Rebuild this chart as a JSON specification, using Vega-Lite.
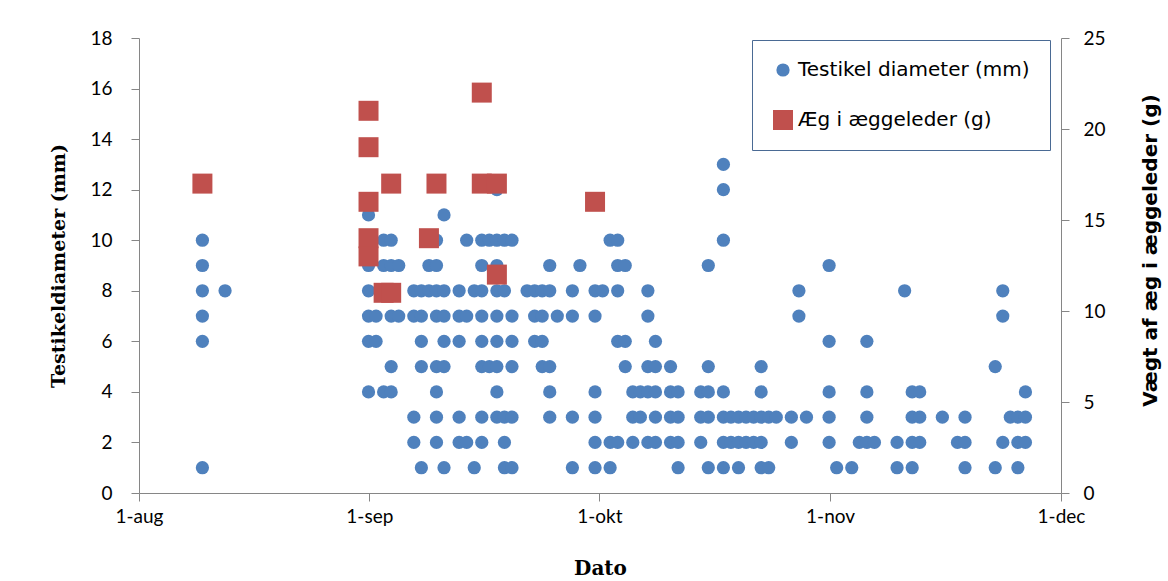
{
"$schema":"https://vega.github.io/schema/vega-lite/v6.json",
"width":922,"height":455,
"autosize":{"type":"none"},
"padding":{"left":139,"top":38,"right":107,"bottom":88},
"background":"white",
"config":{"view":{"stroke":null},"font":"Lato"},
"datasets":{"punkter":[
{"dato":"2010-08-10","serie":"Testikel diameter (mm)","vaerdi":10},
{"dato":"2010-08-10","serie":"Testikel diameter (mm)","vaerdi":9},
{"dato":"2010-08-10","serie":"Testikel diameter (mm)","vaerdi":8},
{"dato":"2010-08-10","serie":"Testikel diameter (mm)","vaerdi":7},
{"dato":"2010-08-10","serie":"Testikel diameter (mm)","vaerdi":6},
{"dato":"2010-08-10","serie":"Testikel diameter (mm)","vaerdi":1},
{"dato":"2010-08-13","serie":"Testikel diameter (mm)","vaerdi":8},
{"dato":"2010-09-01","serie":"Testikel diameter (mm)","vaerdi":11},
{"dato":"2010-09-01","serie":"Testikel diameter (mm)","vaerdi":9},
{"dato":"2010-09-01","serie":"Testikel diameter (mm)","vaerdi":8},
{"dato":"2010-09-01","serie":"Testikel diameter (mm)","vaerdi":7},
{"dato":"2010-09-01","serie":"Testikel diameter (mm)","vaerdi":6},
{"dato":"2010-09-01","serie":"Testikel diameter (mm)","vaerdi":4},
{"dato":"2010-09-02","serie":"Testikel diameter (mm)","vaerdi":7},
{"dato":"2010-09-02","serie":"Testikel diameter (mm)","vaerdi":6},
{"dato":"2010-09-03","serie":"Testikel diameter (mm)","vaerdi":10},
{"dato":"2010-09-03","serie":"Testikel diameter (mm)","vaerdi":9},
{"dato":"2010-09-03","serie":"Testikel diameter (mm)","vaerdi":4},
{"dato":"2010-09-04","serie":"Testikel diameter (mm)","vaerdi":10},
{"dato":"2010-09-04","serie":"Testikel diameter (mm)","vaerdi":9},
{"dato":"2010-09-04","serie":"Testikel diameter (mm)","vaerdi":7},
{"dato":"2010-09-04","serie":"Testikel diameter (mm)","vaerdi":5},
{"dato":"2010-09-04","serie":"Testikel diameter (mm)","vaerdi":4},
{"dato":"2010-09-05","serie":"Testikel diameter (mm)","vaerdi":9},
{"dato":"2010-09-05","serie":"Testikel diameter (mm)","vaerdi":7},
{"dato":"2010-09-07","serie":"Testikel diameter (mm)","vaerdi":8},
{"dato":"2010-09-07","serie":"Testikel diameter (mm)","vaerdi":7},
{"dato":"2010-09-07","serie":"Testikel diameter (mm)","vaerdi":3},
{"dato":"2010-09-07","serie":"Testikel diameter (mm)","vaerdi":2},
{"dato":"2010-09-08","serie":"Testikel diameter (mm)","vaerdi":8},
{"dato":"2010-09-08","serie":"Testikel diameter (mm)","vaerdi":7},
{"dato":"2010-09-08","serie":"Testikel diameter (mm)","vaerdi":6},
{"dato":"2010-09-08","serie":"Testikel diameter (mm)","vaerdi":5},
{"dato":"2010-09-08","serie":"Testikel diameter (mm)","vaerdi":1},
{"dato":"2010-09-09","serie":"Testikel diameter (mm)","vaerdi":9},
{"dato":"2010-09-09","serie":"Testikel diameter (mm)","vaerdi":8},
{"dato":"2010-09-10","serie":"Testikel diameter (mm)","vaerdi":10},
{"dato":"2010-09-10","serie":"Testikel diameter (mm)","vaerdi":9},
{"dato":"2010-09-10","serie":"Testikel diameter (mm)","vaerdi":8},
{"dato":"2010-09-10","serie":"Testikel diameter (mm)","vaerdi":7},
{"dato":"2010-09-10","serie":"Testikel diameter (mm)","vaerdi":5},
{"dato":"2010-09-10","serie":"Testikel diameter (mm)","vaerdi":4},
{"dato":"2010-09-10","serie":"Testikel diameter (mm)","vaerdi":3},
{"dato":"2010-09-10","serie":"Testikel diameter (mm)","vaerdi":2},
{"dato":"2010-09-11","serie":"Testikel diameter (mm)","vaerdi":11},
{"dato":"2010-09-11","serie":"Testikel diameter (mm)","vaerdi":8},
{"dato":"2010-09-11","serie":"Testikel diameter (mm)","vaerdi":7},
{"dato":"2010-09-11","serie":"Testikel diameter (mm)","vaerdi":6},
{"dato":"2010-09-11","serie":"Testikel diameter (mm)","vaerdi":5},
{"dato":"2010-09-11","serie":"Testikel diameter (mm)","vaerdi":1},
{"dato":"2010-09-13","serie":"Testikel diameter (mm)","vaerdi":8},
{"dato":"2010-09-13","serie":"Testikel diameter (mm)","vaerdi":7},
{"dato":"2010-09-13","serie":"Testikel diameter (mm)","vaerdi":6},
{"dato":"2010-09-13","serie":"Testikel diameter (mm)","vaerdi":3},
{"dato":"2010-09-13","serie":"Testikel diameter (mm)","vaerdi":2},
{"dato":"2010-09-14","serie":"Testikel diameter (mm)","vaerdi":10},
{"dato":"2010-09-14","serie":"Testikel diameter (mm)","vaerdi":7},
{"dato":"2010-09-14","serie":"Testikel diameter (mm)","vaerdi":2},
{"dato":"2010-09-15","serie":"Testikel diameter (mm)","vaerdi":8},
{"dato":"2010-09-15","serie":"Testikel diameter (mm)","vaerdi":1},
{"dato":"2010-09-16","serie":"Testikel diameter (mm)","vaerdi":10},
{"dato":"2010-09-16","serie":"Testikel diameter (mm)","vaerdi":9},
{"dato":"2010-09-16","serie":"Testikel diameter (mm)","vaerdi":8},
{"dato":"2010-09-16","serie":"Testikel diameter (mm)","vaerdi":7},
{"dato":"2010-09-16","serie":"Testikel diameter (mm)","vaerdi":6},
{"dato":"2010-09-16","serie":"Testikel diameter (mm)","vaerdi":5},
{"dato":"2010-09-16","serie":"Testikel diameter (mm)","vaerdi":3},
{"dato":"2010-09-16","serie":"Testikel diameter (mm)","vaerdi":2},
{"dato":"2010-09-17","serie":"Testikel diameter (mm)","vaerdi":10},
{"dato":"2010-09-17","serie":"Testikel diameter (mm)","vaerdi":5},
{"dato":"2010-09-18","serie":"Testikel diameter (mm)","vaerdi":12},
{"dato":"2010-09-18","serie":"Testikel diameter (mm)","vaerdi":10},
{"dato":"2010-09-18","serie":"Testikel diameter (mm)","vaerdi":9},
{"dato":"2010-09-18","serie":"Testikel diameter (mm)","vaerdi":8},
{"dato":"2010-09-18","serie":"Testikel diameter (mm)","vaerdi":7},
{"dato":"2010-09-18","serie":"Testikel diameter (mm)","vaerdi":6},
{"dato":"2010-09-18","serie":"Testikel diameter (mm)","vaerdi":5},
{"dato":"2010-09-18","serie":"Testikel diameter (mm)","vaerdi":4},
{"dato":"2010-09-18","serie":"Testikel diameter (mm)","vaerdi":3},
{"dato":"2010-09-19","serie":"Testikel diameter (mm)","vaerdi":10},
{"dato":"2010-09-19","serie":"Testikel diameter (mm)","vaerdi":8},
{"dato":"2010-09-19","serie":"Testikel diameter (mm)","vaerdi":3},
{"dato":"2010-09-19","serie":"Testikel diameter (mm)","vaerdi":2},
{"dato":"2010-09-19","serie":"Testikel diameter (mm)","vaerdi":1},
{"dato":"2010-09-20","serie":"Testikel diameter (mm)","vaerdi":10},
{"dato":"2010-09-20","serie":"Testikel diameter (mm)","vaerdi":7},
{"dato":"2010-09-20","serie":"Testikel diameter (mm)","vaerdi":6},
{"dato":"2010-09-20","serie":"Testikel diameter (mm)","vaerdi":5},
{"dato":"2010-09-20","serie":"Testikel diameter (mm)","vaerdi":3},
{"dato":"2010-09-20","serie":"Testikel diameter (mm)","vaerdi":1},
{"dato":"2010-09-22","serie":"Testikel diameter (mm)","vaerdi":8},
{"dato":"2010-09-23","serie":"Testikel diameter (mm)","vaerdi":8},
{"dato":"2010-09-23","serie":"Testikel diameter (mm)","vaerdi":7},
{"dato":"2010-09-23","serie":"Testikel diameter (mm)","vaerdi":6},
{"dato":"2010-09-24","serie":"Testikel diameter (mm)","vaerdi":8},
{"dato":"2010-09-24","serie":"Testikel diameter (mm)","vaerdi":7},
{"dato":"2010-09-24","serie":"Testikel diameter (mm)","vaerdi":6},
{"dato":"2010-09-24","serie":"Testikel diameter (mm)","vaerdi":5},
{"dato":"2010-09-25","serie":"Testikel diameter (mm)","vaerdi":9},
{"dato":"2010-09-25","serie":"Testikel diameter (mm)","vaerdi":8},
{"dato":"2010-09-25","serie":"Testikel diameter (mm)","vaerdi":5},
{"dato":"2010-09-25","serie":"Testikel diameter (mm)","vaerdi":4},
{"dato":"2010-09-25","serie":"Testikel diameter (mm)","vaerdi":3},
{"dato":"2010-09-26","serie":"Testikel diameter (mm)","vaerdi":7},
{"dato":"2010-09-28","serie":"Testikel diameter (mm)","vaerdi":8},
{"dato":"2010-09-28","serie":"Testikel diameter (mm)","vaerdi":7},
{"dato":"2010-09-28","serie":"Testikel diameter (mm)","vaerdi":3},
{"dato":"2010-09-28","serie":"Testikel diameter (mm)","vaerdi":1},
{"dato":"2010-09-29","serie":"Testikel diameter (mm)","vaerdi":9},
{"dato":"2010-10-01","serie":"Testikel diameter (mm)","vaerdi":8},
{"dato":"2010-10-01","serie":"Testikel diameter (mm)","vaerdi":7},
{"dato":"2010-10-01","serie":"Testikel diameter (mm)","vaerdi":4},
{"dato":"2010-10-01","serie":"Testikel diameter (mm)","vaerdi":3},
{"dato":"2010-10-01","serie":"Testikel diameter (mm)","vaerdi":2},
{"dato":"2010-10-01","serie":"Testikel diameter (mm)","vaerdi":1},
{"dato":"2010-10-02","serie":"Testikel diameter (mm)","vaerdi":8},
{"dato":"2010-10-03","serie":"Testikel diameter (mm)","vaerdi":10},
{"dato":"2010-10-03","serie":"Testikel diameter (mm)","vaerdi":2},
{"dato":"2010-10-03","serie":"Testikel diameter (mm)","vaerdi":1},
{"dato":"2010-10-04","serie":"Testikel diameter (mm)","vaerdi":10},
{"dato":"2010-10-04","serie":"Testikel diameter (mm)","vaerdi":9},
{"dato":"2010-10-04","serie":"Testikel diameter (mm)","vaerdi":8},
{"dato":"2010-10-04","serie":"Testikel diameter (mm)","vaerdi":6},
{"dato":"2010-10-04","serie":"Testikel diameter (mm)","vaerdi":2},
{"dato":"2010-10-05","serie":"Testikel diameter (mm)","vaerdi":9},
{"dato":"2010-10-05","serie":"Testikel diameter (mm)","vaerdi":6},
{"dato":"2010-10-05","serie":"Testikel diameter (mm)","vaerdi":5},
{"dato":"2010-10-06","serie":"Testikel diameter (mm)","vaerdi":4},
{"dato":"2010-10-06","serie":"Testikel diameter (mm)","vaerdi":3},
{"dato":"2010-10-06","serie":"Testikel diameter (mm)","vaerdi":2},
{"dato":"2010-10-07","serie":"Testikel diameter (mm)","vaerdi":4},
{"dato":"2010-10-07","serie":"Testikel diameter (mm)","vaerdi":3},
{"dato":"2010-10-08","serie":"Testikel diameter (mm)","vaerdi":8},
{"dato":"2010-10-08","serie":"Testikel diameter (mm)","vaerdi":7},
{"dato":"2010-10-08","serie":"Testikel diameter (mm)","vaerdi":5},
{"dato":"2010-10-08","serie":"Testikel diameter (mm)","vaerdi":4},
{"dato":"2010-10-08","serie":"Testikel diameter (mm)","vaerdi":2},
{"dato":"2010-10-09","serie":"Testikel diameter (mm)","vaerdi":6},
{"dato":"2010-10-09","serie":"Testikel diameter (mm)","vaerdi":5},
{"dato":"2010-10-09","serie":"Testikel diameter (mm)","vaerdi":4},
{"dato":"2010-10-09","serie":"Testikel diameter (mm)","vaerdi":3},
{"dato":"2010-10-09","serie":"Testikel diameter (mm)","vaerdi":2},
{"dato":"2010-10-11","serie":"Testikel diameter (mm)","vaerdi":5},
{"dato":"2010-10-11","serie":"Testikel diameter (mm)","vaerdi":4},
{"dato":"2010-10-11","serie":"Testikel diameter (mm)","vaerdi":3},
{"dato":"2010-10-11","serie":"Testikel diameter (mm)","vaerdi":2},
{"dato":"2010-10-12","serie":"Testikel diameter (mm)","vaerdi":4},
{"dato":"2010-10-12","serie":"Testikel diameter (mm)","vaerdi":3},
{"dato":"2010-10-12","serie":"Testikel diameter (mm)","vaerdi":2},
{"dato":"2010-10-12","serie":"Testikel diameter (mm)","vaerdi":1},
{"dato":"2010-10-15","serie":"Testikel diameter (mm)","vaerdi":4},
{"dato":"2010-10-15","serie":"Testikel diameter (mm)","vaerdi":3},
{"dato":"2010-10-15","serie":"Testikel diameter (mm)","vaerdi":2},
{"dato":"2010-10-16","serie":"Testikel diameter (mm)","vaerdi":9},
{"dato":"2010-10-16","serie":"Testikel diameter (mm)","vaerdi":5},
{"dato":"2010-10-16","serie":"Testikel diameter (mm)","vaerdi":4},
{"dato":"2010-10-16","serie":"Testikel diameter (mm)","vaerdi":3},
{"dato":"2010-10-16","serie":"Testikel diameter (mm)","vaerdi":1},
{"dato":"2010-10-18","serie":"Testikel diameter (mm)","vaerdi":13},
{"dato":"2010-10-18","serie":"Testikel diameter (mm)","vaerdi":12},
{"dato":"2010-10-18","serie":"Testikel diameter (mm)","vaerdi":10},
{"dato":"2010-10-18","serie":"Testikel diameter (mm)","vaerdi":4},
{"dato":"2010-10-18","serie":"Testikel diameter (mm)","vaerdi":3},
{"dato":"2010-10-18","serie":"Testikel diameter (mm)","vaerdi":2},
{"dato":"2010-10-18","serie":"Testikel diameter (mm)","vaerdi":1},
{"dato":"2010-10-19","serie":"Testikel diameter (mm)","vaerdi":3},
{"dato":"2010-10-19","serie":"Testikel diameter (mm)","vaerdi":2},
{"dato":"2010-10-20","serie":"Testikel diameter (mm)","vaerdi":3},
{"dato":"2010-10-20","serie":"Testikel diameter (mm)","vaerdi":2},
{"dato":"2010-10-20","serie":"Testikel diameter (mm)","vaerdi":1},
{"dato":"2010-10-21","serie":"Testikel diameter (mm)","vaerdi":3},
{"dato":"2010-10-21","serie":"Testikel diameter (mm)","vaerdi":2},
{"dato":"2010-10-22","serie":"Testikel diameter (mm)","vaerdi":3},
{"dato":"2010-10-22","serie":"Testikel diameter (mm)","vaerdi":2},
{"dato":"2010-10-23","serie":"Testikel diameter (mm)","vaerdi":5},
{"dato":"2010-10-23","serie":"Testikel diameter (mm)","vaerdi":4},
{"dato":"2010-10-23","serie":"Testikel diameter (mm)","vaerdi":3},
{"dato":"2010-10-23","serie":"Testikel diameter (mm)","vaerdi":2},
{"dato":"2010-10-23","serie":"Testikel diameter (mm)","vaerdi":1},
{"dato":"2010-10-24","serie":"Testikel diameter (mm)","vaerdi":3},
{"dato":"2010-10-24","serie":"Testikel diameter (mm)","vaerdi":1},
{"dato":"2010-10-25","serie":"Testikel diameter (mm)","vaerdi":3},
{"dato":"2010-10-27","serie":"Testikel diameter (mm)","vaerdi":3},
{"dato":"2010-10-27","serie":"Testikel diameter (mm)","vaerdi":2},
{"dato":"2010-10-28","serie":"Testikel diameter (mm)","vaerdi":8},
{"dato":"2010-10-28","serie":"Testikel diameter (mm)","vaerdi":7},
{"dato":"2010-10-29","serie":"Testikel diameter (mm)","vaerdi":3},
{"dato":"2010-11-01","serie":"Testikel diameter (mm)","vaerdi":9},
{"dato":"2010-11-01","serie":"Testikel diameter (mm)","vaerdi":6},
{"dato":"2010-11-01","serie":"Testikel diameter (mm)","vaerdi":4},
{"dato":"2010-11-01","serie":"Testikel diameter (mm)","vaerdi":3},
{"dato":"2010-11-01","serie":"Testikel diameter (mm)","vaerdi":2},
{"dato":"2010-11-02","serie":"Testikel diameter (mm)","vaerdi":1},
{"dato":"2010-11-04","serie":"Testikel diameter (mm)","vaerdi":1},
{"dato":"2010-11-05","serie":"Testikel diameter (mm)","vaerdi":2},
{"dato":"2010-11-06","serie":"Testikel diameter (mm)","vaerdi":6},
{"dato":"2010-11-06","serie":"Testikel diameter (mm)","vaerdi":4},
{"dato":"2010-11-06","serie":"Testikel diameter (mm)","vaerdi":3},
{"dato":"2010-11-06","serie":"Testikel diameter (mm)","vaerdi":2},
{"dato":"2010-11-07","serie":"Testikel diameter (mm)","vaerdi":2},
{"dato":"2010-11-10","serie":"Testikel diameter (mm)","vaerdi":2},
{"dato":"2010-11-10","serie":"Testikel diameter (mm)","vaerdi":1},
{"dato":"2010-11-11","serie":"Testikel diameter (mm)","vaerdi":8},
{"dato":"2010-11-12","serie":"Testikel diameter (mm)","vaerdi":4},
{"dato":"2010-11-12","serie":"Testikel diameter (mm)","vaerdi":3},
{"dato":"2010-11-12","serie":"Testikel diameter (mm)","vaerdi":2},
{"dato":"2010-11-12","serie":"Testikel diameter (mm)","vaerdi":1},
{"dato":"2010-11-13","serie":"Testikel diameter (mm)","vaerdi":4},
{"dato":"2010-11-13","serie":"Testikel diameter (mm)","vaerdi":3},
{"dato":"2010-11-13","serie":"Testikel diameter (mm)","vaerdi":2},
{"dato":"2010-11-16","serie":"Testikel diameter (mm)","vaerdi":3},
{"dato":"2010-11-18","serie":"Testikel diameter (mm)","vaerdi":2},
{"dato":"2010-11-19","serie":"Testikel diameter (mm)","vaerdi":3},
{"dato":"2010-11-19","serie":"Testikel diameter (mm)","vaerdi":2},
{"dato":"2010-11-19","serie":"Testikel diameter (mm)","vaerdi":1},
{"dato":"2010-11-23","serie":"Testikel diameter (mm)","vaerdi":5},
{"dato":"2010-11-23","serie":"Testikel diameter (mm)","vaerdi":1},
{"dato":"2010-11-24","serie":"Testikel diameter (mm)","vaerdi":8},
{"dato":"2010-11-24","serie":"Testikel diameter (mm)","vaerdi":7},
{"dato":"2010-11-24","serie":"Testikel diameter (mm)","vaerdi":2},
{"dato":"2010-11-25","serie":"Testikel diameter (mm)","vaerdi":3},
{"dato":"2010-11-26","serie":"Testikel diameter (mm)","vaerdi":3},
{"dato":"2010-11-26","serie":"Testikel diameter (mm)","vaerdi":2},
{"dato":"2010-11-26","serie":"Testikel diameter (mm)","vaerdi":1},
{"dato":"2010-11-27","serie":"Testikel diameter (mm)","vaerdi":4},
{"dato":"2010-11-27","serie":"Testikel diameter (mm)","vaerdi":3},
{"dato":"2010-11-27","serie":"Testikel diameter (mm)","vaerdi":2},
{"dato":"2010-08-10","serie":"Æg i æggeleder (g)","vaerdi":17},
{"dato":"2010-09-01","serie":"Æg i æggeleder (g)","vaerdi":21},
{"dato":"2010-09-01","serie":"Æg i æggeleder (g)","vaerdi":19},
{"dato":"2010-09-01","serie":"Æg i æggeleder (g)","vaerdi":16},
{"dato":"2010-09-01","serie":"Æg i æggeleder (g)","vaerdi":14},
{"dato":"2010-09-01","serie":"Æg i æggeleder (g)","vaerdi":13},
{"dato":"2010-09-03","serie":"Æg i æggeleder (g)","vaerdi":11},
{"dato":"2010-09-04","serie":"Æg i æggeleder (g)","vaerdi":17},
{"dato":"2010-09-04","serie":"Æg i æggeleder (g)","vaerdi":11},
{"dato":"2010-09-09","serie":"Æg i æggeleder (g)","vaerdi":14},
{"dato":"2010-09-10","serie":"Æg i æggeleder (g)","vaerdi":17},
{"dato":"2010-09-16","serie":"Æg i æggeleder (g)","vaerdi":22},
{"dato":"2010-09-16","serie":"Æg i æggeleder (g)","vaerdi":17},
{"dato":"2010-09-18","serie":"Æg i æggeleder (g)","vaerdi":17},
{"dato":"2010-09-18","serie":"Æg i æggeleder (g)","vaerdi":12},
{"dato":"2010-10-01","serie":"Æg i æggeleder (g)","vaerdi":16}
]},
"data":{"name":"punkter"},
"encoding":{
 "x":{"field":"dato","type":"temporal",
  "scale":{"type":"utc","domain":[{"year":2010,"month":8,"date":1,"hours":14,"minutes":28,"utc":true},{"year":2010,"month":12,"date":1,"hours":17,"minutes":3,"utc":true}]},
  "axis":{"values":[{"year":2010,"month":8,"date":1,"hours":14,"minutes":28,"utc":true},{"year":2010,"month":9,"date":1,"hours":2,"minutes":33,"utc":true},{"year":2010,"month":10,"date":1,"hours":13,"minutes":40,"utc":true},{"year":2010,"month":11,"date":1,"hours":3,"minutes":7,"utc":true},{"year":2010,"month":12,"date":1,"hours":17,"minutes":3,"utc":true}],
   "labelExpr":"'1-' + ['jan','feb','mar','apr','maj','jun','jul','aug','sep','okt','nov','dec'][utcmonth(datum.value)]",
   "title":"Dato","titleFont":"DejaVu Serif","titleFontWeight":"bold","titleFontSize":20,"titleColor":"black","titleX":461,"titleY":75,"titleBaseline":"middle",
   "labelFont":"Lato","labelFontSize":19,"labelColor":"black","labelPadding":6,"labelFlush":false,"labelOverlap":false,
   "domainColor":"#868686","tickColor":"#868686","tickSize":8,"grid":false}},
 "color":{"field":"serie","type":"nominal","scale":{"domain":["Testikel diameter (mm)","Æg i æggeleder (g)"],"range":["#4F81BD","#C0504D"]},
  "legend":{"title":null,"orient":"none","legendX":613,"legendY":2,"padding":20,"rowPadding":29,"labelFont":"DejaVu Sans","labelFontSize":20,"labelColor":"black","labelOffset":4,"labelLimit":0,"strokeColor":"#4A6A94","fillColor":"white"}},
 "shape":{"field":"serie","type":"nominal","scale":{"domain":["Testikel diameter (mm)","Æg i æggeleder (g)"],"range":["circle","square"]}},
 "size":{"field":"serie","type":"nominal","scale":{"domain":["Testikel diameter (mm)","Æg i æggeleder (g)"],"range":[175,400]}}
},
"layer":[
 {"transform":[{"filter":"datum.serie == 'Testikel diameter (mm)'"}],
  "mark":{"type":"point","filled":true,"opacity":1},
  "encoding":{"y":{"field":"vaerdi","type":"quantitative","scale":{"domain":[0,18]},
   "axis":{"orient":"left","values":[0,2,4,6,8,10,12,14,16,18],"title":"Testikeldiameter (mm)","titleFont":"DejaVu Serif","titleFontWeight":"bold","titleFontSize":19,"titleColor":"black","titleX":-81,"titleY":227.5,"titleBaseline":"middle","titleAlign":"center","titleAngle":270,
    "labelFont":"Lato","labelFontSize":19,"labelColor":"black","labelPadding":19,"domainColor":"#868686","tickColor":"#868686","tickSize":8,"grid":false}}}},
 {"transform":[{"filter":"datum.serie == 'Æg i æggeleder (g)'"}],
  "mark":{"type":"point","filled":true,"opacity":1},
  "encoding":{"y":{"field":"vaerdi","type":"quantitative","scale":{"domain":[0,25]},
   "axis":{"orient":"right","values":[0,5,10,15,20,25],"title":"Vægt af æg i æggeleder (g)","titleFont":"DejaVu Sans","titleFontWeight":"bold","titleFontSize":20,"titleColor":"black","titleX":89,"titleY":212,"titleBaseline":"middle","titleAlign":"center","titleAngle":270,
    "labelFont":"Lato","labelFontSize":19,"labelColor":"black","labelPadding":14,"domainColor":"#868686","tickColor":"#868686","tickSize":8,"grid":false}}}}
],
"resolve":{"scale":{"y":"independent"}}
}
